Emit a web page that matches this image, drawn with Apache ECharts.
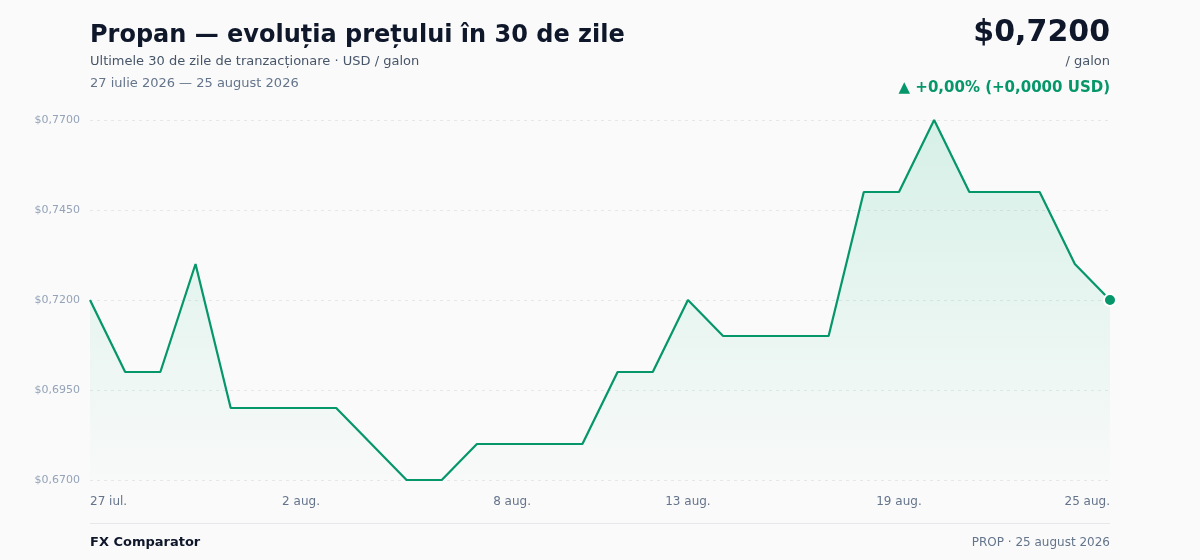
<!DOCTYPE html>
<html>
<head>
<meta charset="utf-8">
<script src="https://cdn.jsdelivr.net/npm/echarts@6/dist/echarts.min.js"></script>
<style>
  html, body { margin: 0; padding: 0; background: #fafafa; }
  #chart { width: 1200px; height: 560px; }
</style>
</head>
<body>
<div id="chart"></div>
<script>
var days = ['27 iul.', '28 iul.', '29 iul.', '30 iul.', '31 iul.', '1 aug.', '2 aug.', '3 aug.', '4 aug.', '5 aug.',
    '6 aug.', '7 aug.', '8 aug.', '9 aug.', '10 aug.', '11 aug.', '12 aug.', '13 aug.', '14 aug.', '15 aug.',
    '16 aug.', '17 aug.', '18 aug.', '19 aug.', '20 aug.', '21 aug.', '22 aug.', '23 aug.', '24 aug.', '25 aug.'];
var prices = [0.720, 0.700, 0.700, 0.730, 0.690, 0.690, 0.690, 0.690, 0.680, 0.670,
    0.670, 0.680, 0.680, 0.680, 0.680, 0.700, 0.700, 0.720, 0.710, 0.710,
    0.710, 0.710, 0.750, 0.750, 0.770, 0.750, 0.750, 0.750, 0.730, 0.720];
var shownDays = [0, 6, 12, 17, 23, 29];
var yTicks = [0.670, 0.695, 0.720, 0.745, 0.770];

var green = '#059669';

function money(v) {
    return '$' + v.toFixed(4).replace('.', ',');
}

function label(text, pos, top, size, weight, color) {
    var t = {
        text: text,
        top: top,
        padding: 0,
        textStyle: { fontSize: size, fontWeight: weight, color: color, fontFamily: 'DejaVu Sans' }
    };
    if (pos === 'left') t.left = 90; else t.right = 90;
    return t;
}

var myChart = echarts.init(document.getElementById('chart'), null, { renderer: 'canvas' });

var option = {
    backgroundColor: '#fafafa',
    textStyle: { fontFamily: 'DejaVu Sans' },
    title: [
        label('Propan — evoluția prețului în 30 de zile', 'left', 24, 24, 'bold', '#0f172a'),
        label('Ultimele 30 de zile de tranzacționare · USD / galon', 'left', 55, 13, 'normal', '#475569'),
        label('27 iulie 2026 — 25 august 2026', 'left', 77, 13, 'normal', '#64748b'),
        label(money(prices[prices.length - 1]), 'right', 18, 30, 'bold', '#0f172a'),
        label('/ galon', 'right', 55, 13, 'normal', '#475569'),
        label('▲ +0,00% (+0,0000 USD)', 'right', 81, 15, 'bold', green),
        label('FX Comparator', 'left', 536, 13, 'bold', '#0f172a'),
        label('PROP · 25 august 2026', 'right', 537, 12, 'normal', '#64748b')
    ],
    graphic: [
        {
            type: 'line',
            shape: { x1: 90, y1: 523.5, x2: 1110, y2: 523.5 },
            style: { stroke: '#e5e7eb', lineWidth: 1 }
        }
    ],
    grid: { left: 90, right: 90, top: 120, bottom: 80, containLabel: false },
    xAxis: {
        type: 'category',
        data: days,
        boundaryGap: false,
        axisLine: { show: false },
        axisTick: { show: false },
        splitLine: { show: false },
        axisLabel: {
            interval: function (idx) { return shownDays.indexOf(idx) >= 0; },
            color: '#64748b',
            fontSize: 12,
            margin: 16,
            alignMinLabel: 'left',
            alignMaxLabel: 'right'
        }
    },
    yAxis: {
        type: 'value',
        min: 0.67,
        max: 0.77,
        axisLine: { show: false },
        axisTick: { show: false, customValues: yTicks },
        axisLabel: {
            customValues: yTicks,
            color: '#94a3b8',
            fontSize: 11,
            margin: 10,
            formatter: function (v) { return money(v); }
        },
        splitLine: {
            show: true,
            customValues: yTicks,
            lineStyle: { color: '#e5e7eb', type: [3, 4], width: 1 }
        }
    },
    series: [
        {
            type: 'line',
            data: prices,
            symbol: 'none',
            lineStyle: { color: green, width: 2.2 },
            areaStyle: {
                color: new echarts.graphic.LinearGradient(0, 0, 0, 1, [
                    { offset: 0, color: 'rgba(16,185,129,0.22)' },
                    { offset: 1, color: 'rgba(16,185,129,0.01)' }
                ])
            },
            markPoint: {
                symbol: 'circle',
                symbolSize: 12,
                label: { show: false },
                itemStyle: { color: green, borderColor: '#ffffff', borderWidth: 2 },
                data: [{ coord: [prices.length - 1, prices[prices.length - 1]] }]
            },
            silent: true
        }
    ]
};

myChart.setOption(option);
</script>
</body>
</html>
